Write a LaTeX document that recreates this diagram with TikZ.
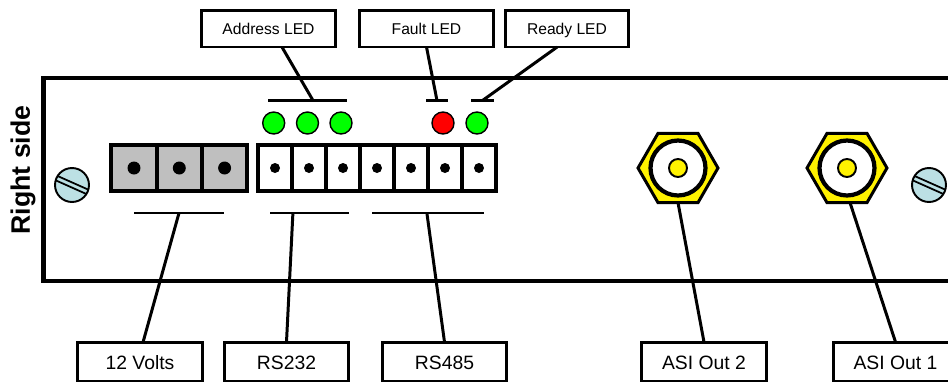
\documentclass[tikz,border=0pt]{standalone}
\usepackage{fontspec}
\setmainfont{Liberation Sans}
\usetikzlibrary{shapes.geometric}

\begin{document}
\begin{tikzpicture}[x=0.02cm, y=-0.02cm, every node/.style={inner sep=0pt, outer sep=0pt},
	wire/.style={line width=1.7pt},
	panel/.style={line width=2.4pt},
	tag/.style={draw, line width=1.7pt, fill=white, text height=0.72em, text depth=0pt, minimum height=0.74cm},
	toptag/.style={tag, font=\fontsize{8.9}{10}\selectfont},
	lowtag/.style={tag, text height=0.86em, minimum height=0.78cm, minimum width=2.49cm, font=\fontsize{11}{13}\selectfont},
	grayblock/.style={draw, line width=2.4pt, fill=black!25, minimum width=0.906cm, minimum height=0.92cm},
	whiteblock/.style={draw, line width=2.4pt, fill=white, minimum width=0.68cm, minimum height=0.92cm},
	bigpin/.style={circle, fill=black, minimum size=0.26cm},
	smallpin/.style={circle, fill=black, minimum size=0.2cm},
	led/.style={circle, draw, line width=0.8pt, fill=green, minimum size=0.44cm},
	screw/.style={circle, draw, line width=1.1pt, fill=screwblue, minimum size=0.68cm},
	hexnut/.style={regular polygon, regular polygon sides=6, draw, line width=1.7pt, fill=yellow, minimum size=1.6cm},
	ring/.style={circle, draw, line width=2.4pt, fill=white, minimum size=1.1cm},
	core/.style={circle, draw, line width=1.1pt, fill=yellow, minimum size=0.36cm}]
	\definecolor{screwblue}{HTML}{BCE0E4}
	\path[use as bounding box, clip] (0,0) rectangle (948,383);
	\draw[panel] (960,78) -- (43.5,78) -- (43.5,281) -- (960,281);
	\node[font=\fontsize{15.2}{18}\selectfont\bfseries, rotate=90] (side) at (23,170) {Right side};
	\node[screw] (screwl) at (72,185) {};
	\draw[line width=1pt] (screwl.148) -- (screwl.-16) (screwl.164) -- (screwl.-32);
	\node[screw] (screwr) at (929,185) {};
	\draw[line width=1pt] (screwr.148) -- (screwr.-16) (screwr.164) -- (screwr.-32);
	\node[grayblock] (g1) at (134,168) {};
	\node[grayblock] (g2) at (179.3,168) {};
	\node[grayblock] (g3) at (224.6,168) {};
	\node[bigpin] (gp1) at (g1) {};
	\node[bigpin] (gp2) at (g2) {};
	\node[bigpin] (gp3) at (g3) {};
	\node[whiteblock] (w1) at (275,168) {};
	\node[whiteblock] (w2) at (309,168) {};
	\node[whiteblock] (w3) at (343,168) {};
	\node[whiteblock] (w4) at (377,168) {};
	\node[whiteblock] (w5) at (411,168) {};
	\node[whiteblock] (w6) at (445,168) {};
	\node[whiteblock] (w7) at (479,168) {};
	\node[smallpin] (wp1) at (w1) {};
	\node[smallpin] (wp2) at (w2) {};
	\node[smallpin] (wp3) at (w3) {};
	\node[smallpin] (wp4) at (w4) {};
	\node[smallpin] (wp5) at (w5) {};
	\node[smallpin] (wp6) at (w6) {};
	\node[smallpin] (wp7) at (w7) {};
	\node[led] (a1) at (273.7,123) {};
	\node[led] (a2) at (307.5,123) {};
	\node[led] (a3) at (341,123) {};
	\node[led, fill=red] (fault) at (443,123) {};
	\node[led] (ready) at (477,123) {};
	\node[hexnut] (hex2) at (678,168) {};
	\node[ring] (ring2) at (hex2) {};
	\node[core] (core2) at (hex2) {};
	\node[hexnut] (hex1) at (847,168) {};
	\node[ring] (ring1) at (hex1) {};
	\node[core] (core1) at (hex1) {};
	\draw[wire] (268,100.5) -- coordinate[pos=.57] (baraddr) (347,100.5);
	\draw[wire] (426,100.5) -- coordinate[pos=.5] (barfault) (448,100.5);
	\draw[wire] (471,100.5) -- coordinate[pos=.5] (barready) (494,100.5);
	\draw[wire] (134,213) -- coordinate[pos=.5] (barvolts) (224,213);
	\draw[wire] (270,213) -- coordinate[pos=.29] (bartwo) (349,213);
	\draw[wire] (372,213) -- coordinate[pos=.49] (barfour) (484,213);
	\node[toptag, minimum width=2.7cm] (taddr) at (268.5,28.5) {Address LED};
	\node[toptag, minimum width=2.7cm] (tfault) at (426.5,28.5) {Fault LED};
	\node[toptag, minimum width=2.48cm] (tready) at (567,28.5) {Ready LED};
	\node[lowtag] (volts) at (140,361.5) {12 Volts};
	\node[lowtag] (rstwo) at (286.5,361.5) {RS232};
	\node[lowtag] (rsfour) at (444.5,361.5) {RS485};
	\node[lowtag] (asitwo) at (704,361.5) {ASI Out 2};
	\node[lowtag] (asione) at (895.5,361.5) {ASI Out 1};
	\draw[wire] (taddr.-54) -- (baraddr);
	\draw[wire] (tfault.south) -- (barfault);
	\draw[wire] (tready.-118) -- (barready);
	\draw[wire] (volts.81) -- (barvolts);
	\draw[wire] (rstwo.north) -- (bartwo);
	\draw[wire] (rsfour.north) -- (barfour);
	\draw[wire] (asitwo.north) -- (hex2.south);
	\draw[wire] (asione.north) -- (hex1.-85);
\end{tikzpicture}
\end{document}
